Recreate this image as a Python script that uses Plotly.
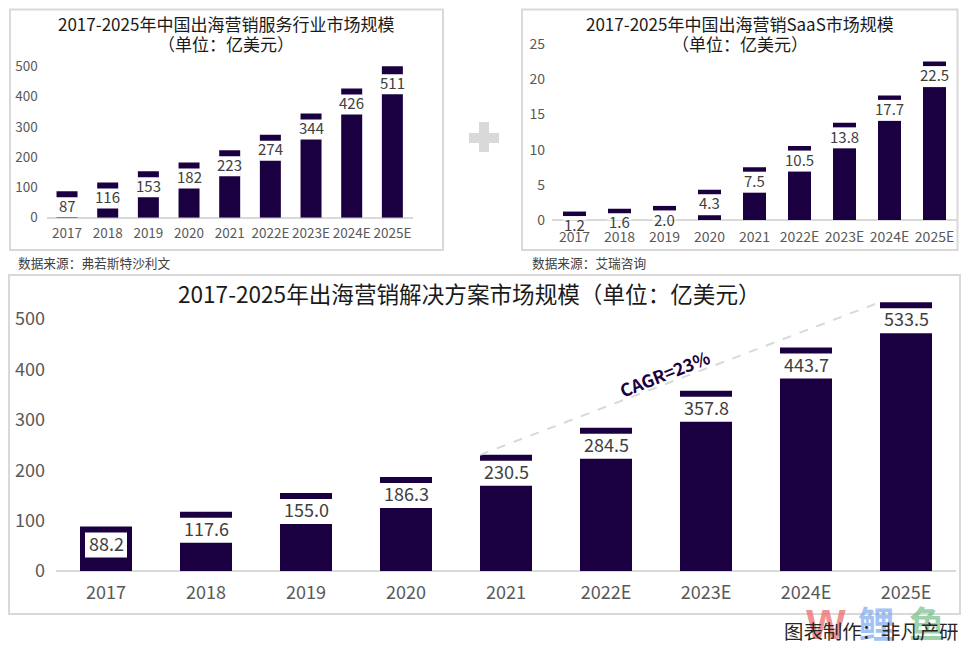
import plotly.graph_objects as go

W = 972
H = 648
FONT = "Noto Sans CJK SC, Noto Sans, sans-serif"
NAVY = "#1a0040"
GREY = "#d9d9d9"

years = ["2017", "2018", "2019", "2020", "2021", "2022E", "2023E", "2024E", "2025E"]
service_values = [87, 116, 153, 182, 223, 274, 344, 426, 511]
service_labels = ["87", "116", "153", "182", "223", "274", "344", "426", "511"]
saas_values = [1.2, 1.6, 2.0, 4.3, 7.5, 10.5, 13.8, 17.7, 22.5]
saas_labels = ["1.2", "1.6", "2.0", "4.3", "7.5", "10.5", "13.8", "17.7", "22.5"]
total_values = [88.2, 117.6, 155.0, 186.3, 230.5, 284.5, 357.8, 443.7, 533.5]
total_labels = ["88.2", "117.6", "155.0", "186.3", "230.5", "284.5", "357.8", "443.7", "533.5"]

fig = go.Figure()


def add_panel(n, values, labels, box, ymax, dtick, bar_w, cap_px, gap_px, tick_size, label_size,
              xstandoff, ystandoff, first_box_w=None):
    # box is the plot area in pixels: left, right, top, bottom
    left, right, top, bottom = box
    px_per_unit = (bottom - top) / ymax
    step = (right - left) / len(values)
    xa = "x" if n == 1 else f"x{n}"
    ya = "y" if n == 1 else f"y{n}"

    fig.add_trace(go.Bar(x=years, y=values, width=bar_w / step, marker=dict(color=NAVY, line_width=0),
                         hoverinfo="skip", xaxis=xa, yaxis=ya))

    # white band under the cap holds the value label; the clipped bar gets a thicker cap
    caps = [cap_px + 2 if v > ymax else cap_px for v in values]
    bases = [min(v, ymax) - c / px_per_unit for v, c in zip(values, caps)]
    box_w = [(bar_w + 1) / step] * len(values)
    if first_box_w:
        box_w[0] = first_box_w / step
    fig.add_trace(go.Bar(x=years, y=[-gap_px / px_per_unit] * len(values), base=bases,
                         width=box_w, marker=dict(color="white", line_width=0),
                         cliponaxis=False, hoverinfo="skip", xaxis=xa, yaxis=ya))

    # year strings read as numbers on annotations, so use the category index
    for i, (v, label, c) in enumerate(zip(values, labels, caps)):
        fig.add_annotation(x=i, y=min(v, ymax), xref=xa, yref=ya, text=label, showarrow=False,
                           yanchor="middle", yshift=-(c + gap_px / 2) + label_size * 0.12,
                           font=dict(family=FONT, size=label_size, color="#404040"))

    fig.update_layout({
        ("xaxis" if n == 1 else f"xaxis{n}"): dict(
            domain=[left / W, right / W], anchor=ya, type="category", range=[-0.5, len(values) - 0.5],
            showgrid=False, showline=False, ticks="", tickangle=0, ticklabelstandoff=xstandoff,
            tickfont=dict(family=FONT, size=tick_size, color="#595959"), automargin=False),
        ("yaxis" if n == 1 else f"yaxis{n}"): dict(
            domain=[1 - bottom / H, 1 - top / H], anchor=xa, range=[0, ymax], dtick=dtick,
            showgrid=False, showline=False, ticks="", zeroline=True, zerolinecolor=GREY,
            zerolinewidth=1.5, ticklabelstandoff=ystandoff,
            tickfont=dict(family=FONT, size=tick_size, color="#595959"), automargin=False),
    })


add_panel(1, service_values, service_labels, (46.7, 412.7, 66.2, 217.7), 500, 100, 21, 6, 20, 13.5, 15, 6, 8)
add_panel(2, saas_values, saas_labels, (552, 957, 44, 220), 25, 5, 23, 4.5, 21, 14, 15, 7, 6)
add_panel(3, total_values, total_labels, (56, 956, 301.4, 571), 535, 100, 52, 6, 25, 18, 18, 9, 10,
          first_box_w=42)


def text(x, y, s, size, color="#262626", anchor="center", family=FONT, **kw):
    fig.add_annotation(x=x / W, y=1 - y / H, xref="paper", yref="paper", text=s, showarrow=False,
                       xanchor=anchor, yanchor="middle",
                       font=dict(family=family, size=size, color=color), **kw)


def rect(x0, y0, x1, y1, **kw):
    fig.add_shape(type="rect", xref="paper", yref="paper", x0=x0 / W, x1=x1 / W,
                  y0=1 - y0 / H, y1=1 - y1 / H, **kw)


# panel frames
for x0, y0, x1, y1 in [(10, 9.5, 443, 250), (522, 9.5, 957.5, 250), (9, 275, 960, 614)]:
    rect(x0, y0, x1, y1, line=dict(color=GREY, width=2))

# plus sign between the top panels
rect(469, 133, 499, 143, fillcolor=GREY, line_width=0)
rect(479, 122, 489, 152, fillcolor=GREY, line_width=0)

# CAGR line, left corner of the 2021 bar to left corner of the 2025E bar
fig.add_shape(type="line", xref="x3", yref="y3", x0=3.74, y0=total_values[4], x1=7.74, y1=total_values[8],
              line=dict(color=GREY, width=2, dash="dash"))
text(664, 373, "<b>CAGR=23%</b>", 17.5, color=NAVY, textangle=-21.5)

text(226, 24, "2017-2025年中国出海营销服务行业市场规模", 17, color="#1a1a1a")
text(226, 44, "（单位：亿美元）", 17, color="#1a1a1a")
text(740, 24, "2017-2025年中国出海营销SaaS市场规模", 17, color="#1a1a1a")
text(740, 44, "（单位：亿美元）", 17, color="#1a1a1a")
text(469, 293, "2017-2025年出海营销解决方案市场规模（单位：亿美元）", 22.6, color="#1a1a1a")
text(16, 262, "数据来源：弗若斯特沙利文", 12.7, color="#404040", anchor="left")
text(530, 262, "数据来源：艾瑞咨询", 12.7, color="#404040", anchor="left")

# watermark under the credit line
text(826, 624, "<b>W</b>", 42, color="rgba(235,110,110,0.75)", family="Liberation Sans")
text(876, 622, "<b>鲤</b>", 36, color="rgba(120,165,240,0.7)")
text(927, 622, "<b>鱼</b>", 36, color="rgba(110,190,130,0.7)")
text(961, 630, "图表制作：非凡产研", 19.4, color="#262626", anchor="right")

fig.update_layout(width=W, height=H, margin=dict(l=0, r=0, t=0, b=0), barmode="overlay",
                  showlegend=False, paper_bgcolor="white", plot_bgcolor="white")

fig.write_html("out.html", config=dict(displayModeBar=False), post_script="document.body.style.margin='0';")
